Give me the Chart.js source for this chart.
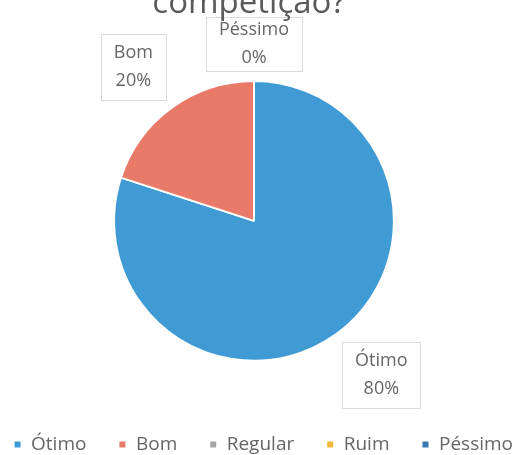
<!DOCTYPE html>
<html>
<head>
<meta charset="utf-8">
<script src="https://cdn.jsdelivr.net/npm/chart.js@4"></script>
<style>
html,body{margin:0;padding:0;background:#fff;}
#wrap{width:521px;height:455px;position:relative;}
</style>
</head>
<body>
<div id="wrap"><canvas id="c" width="521" height="455"></canvas></div>
<script>
const titleText = "competição?";
const categories = ["Ótimo", "Bom", "Regular", "Ruim", "Péssimo"];
const values = [80, 20, 0, 0, 0];
const percentLabels = ["80%", "20%", "0%", "0%", "0%"];
const shownLabels = [true, true, false, false, true];
const colors = ["#409bd5", "#ea7a68", "#a5a5a5", "#f5b93a", "#3a78b5"];

const FONT = "'Open Sans', 'Liberation Sans', sans-serif";
const TEXT = "#666666";

const topTitle = {
  id: 'topTitle',
  afterDraw(chart) {
    const ctx = chart.ctx;
    ctx.save();
    ctx.font = "33px " + FONT;
    ctx.fillStyle = "#5a5a5a";
    ctx.textAlign = "center";
    ctx.textBaseline = "alphabetic";
    ctx.fillText(titleText, 249, 13);
    ctx.restore();
  }
};

const boxLabels = {
  id: 'boxLabels',
  afterDatasetsDraw(chart) {
    const ctx = chart.ctx;
    const meta = chart.getDatasetMeta(0);
    ctx.save();
    ctx.font = "18px " + FONT;
    meta.data.forEach((arc, i) => {
      if (!shownLabels[i]) return;
      const p = arc.getProps(['x','y','startAngle','endAngle','outerRadius'], true);
      const mid = (p.startAngle + p.endAngle) / 2;
      const dx = Math.cos(mid), dy = Math.sin(mid);
      const gap = 10;
      const ex = p.x + dx * (p.outerRadius + gap);
      const ey = p.y + dy * (p.outerRadius + gap);
      const l1 = categories[i], l2 = percentLabels[i];
      const w = Math.max(ctx.measureText(l1).width, ctx.measureText(l2).width) + 26;
      const sx = Math.abs(dx) < 0.05 ? 0 : Math.sign(dx);
      const sy = Math.abs(dy) < 0.05 ? 0 : Math.sign(dy);
      const bh = sx === 0 ? 54 : 66;
      const cx = ex + sx * w / 2;
      const cy = ey + sy * bh / 2;
      ctx.strokeStyle = "#dadada";
      ctx.lineWidth = 1;
      ctx.fillStyle = "#ffffff";
      ctx.fillRect(Math.round(cx - w/2)+0.5, Math.round(cy - bh/2)+0.5, Math.round(w), Math.round(bh));
      ctx.strokeRect(Math.round(cx - w/2)+0.5, Math.round(cy - bh/2)+0.5, Math.round(w), Math.round(bh));
      ctx.fillStyle = TEXT;
      ctx.textAlign = "center";
      ctx.textBaseline = "middle";
      ctx.fillText(l1, cx, cy - 14);
      ctx.fillText(l2, cx, cy + 14);
    });
    ctx.restore();
  }
};

new Chart(document.getElementById('c'), {
  type: 'pie',
  data: {
    labels: categories,
    datasets: [{
      data: values,
      backgroundColor: colors,
      borderColor: "#ffffff",
      borderWidth: 2
    }]
  },
  options: {
    responsive: false,
    animation: false,
    layout: { padding: { top: 80, bottom: -9, left: -43, right: -24 } },
    plugins: {
      tooltip: { enabled: false },
      subtitle: {
        display: true, text: ' ', position: 'right', fullSize: false,
        font: { size: 1 }, padding: { top: 0, bottom: 35.8 }
      },
      legend: {
        position: 'bottom',
        align: 'end',
        title: { display: true, text: ' ', font: { size: 1 }, padding: { top: 40, bottom: 0 } },
        labels: {
          boxWidth: 8, boxHeight: 8, padding: 32,
          color: TEXT,
          font: { size: 19, family: FONT }
        }
      }
    }
  },
  plugins: [topTitle, boxLabels]
});
</script>
</body>
</html>
